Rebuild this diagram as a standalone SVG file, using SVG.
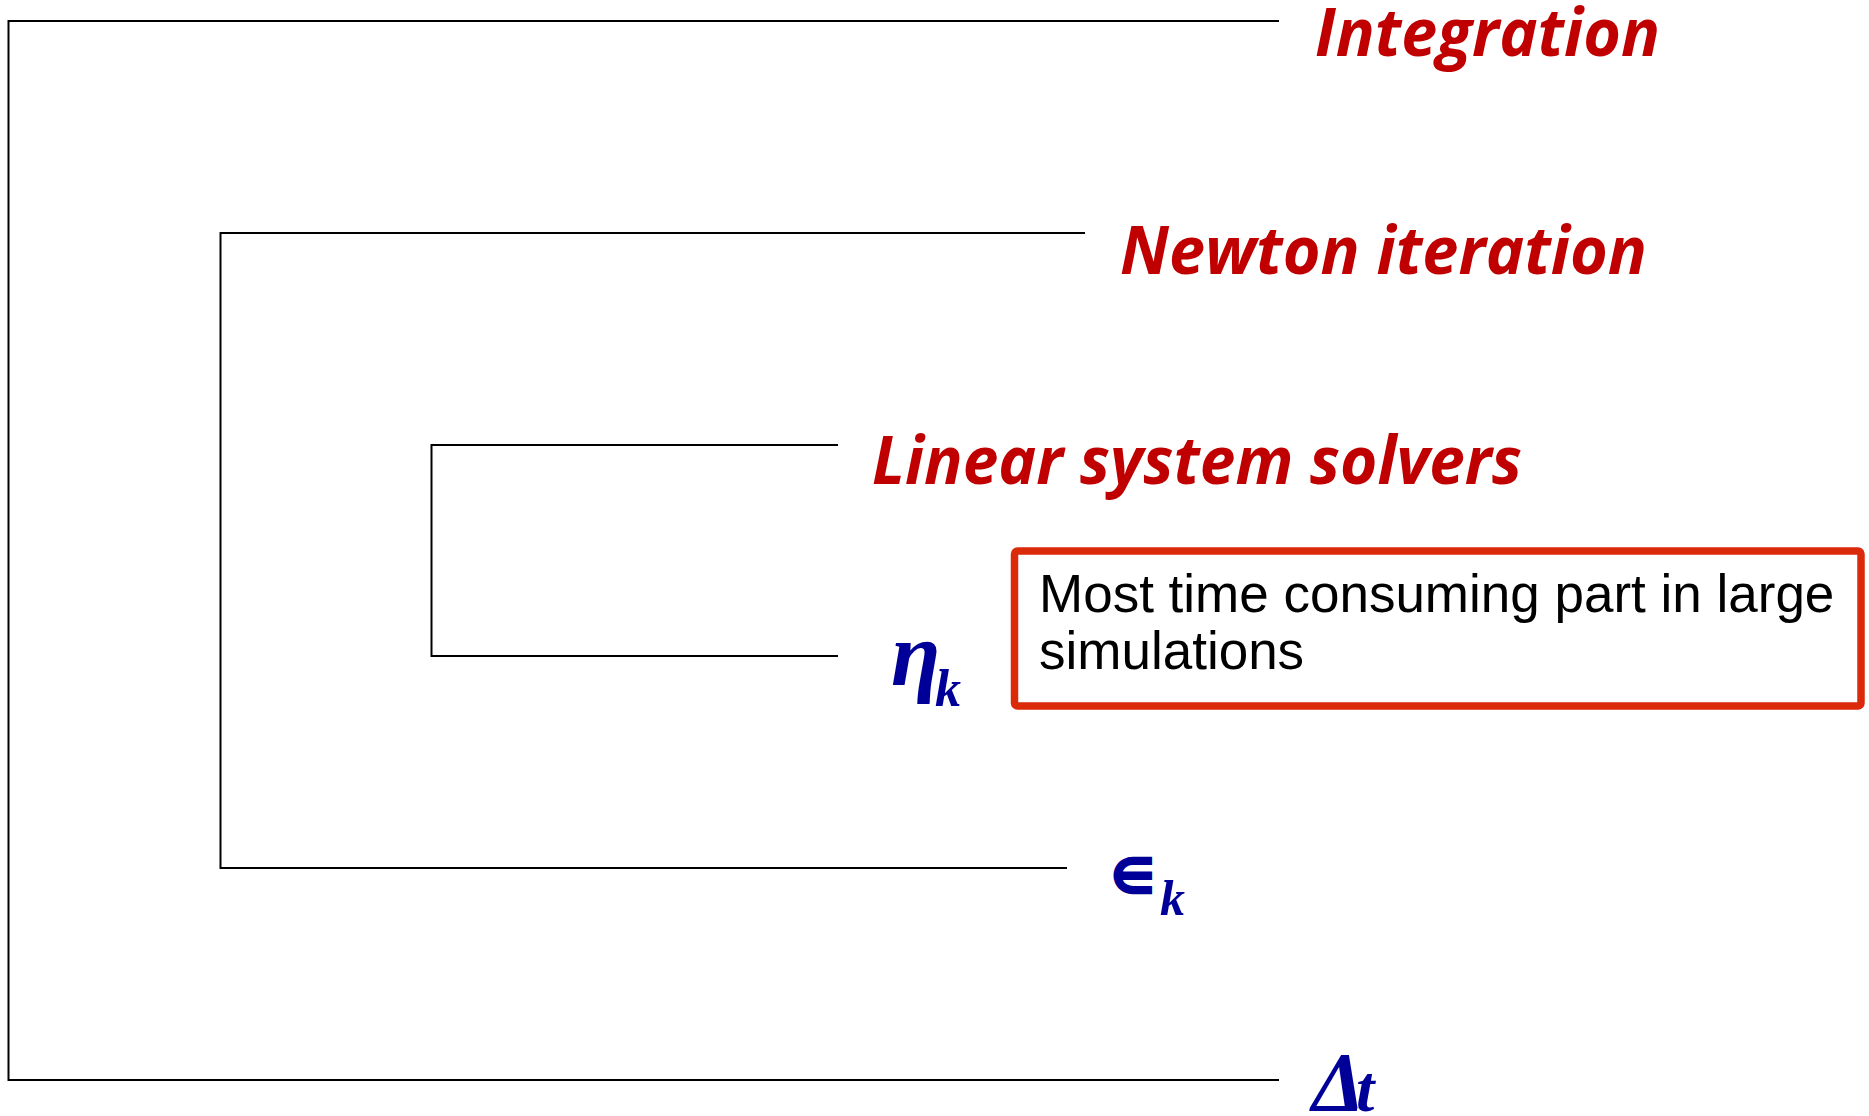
<svg xmlns="http://www.w3.org/2000/svg" width="1869" height="1116" viewBox="0 0 1869 1116">
<style>
.ln{fill:none;stroke:#000;stroke-width:2}
.ttl{font-family:"Open Sans","Liberation Sans",sans-serif;font-weight:bold;font-style:italic;font-size:66px;fill:#C00000}
.math{font-family:"Liberation Serif",serif;font-weight:bold;font-style:italic;fill:#000099}
.note{font-family:"Liberation Sans",Arial,sans-serif;font-size:53px;fill:#000}
</style>
<rect width="1869" height="1116" fill="#fff"/>
<g id="connectors">
<polyline class="ln" points="1279,21 8.5,21 8.5,1080 1279,1080"/>
<polyline class="ln" points="1085,233 220.5,233 220.5,868 1067,868"/>
<polyline class="ln" points="838,445 431.5,445 431.5,656 838,656"/>
</g>
<g id="integration"><text class="ttl" x="1315" y="56" textLength="345" lengthAdjust="spacingAndGlyphs">Integration</text></g>
<g id="newton"><text class="ttl" x="1120" y="274" textLength="527" lengthAdjust="spacingAndGlyphs">Newton iteration</text></g>
<g id="linear"><text class="ttl" x="872" y="484" textLength="650" lengthAdjust="spacingAndGlyphs">Linear system solvers</text></g>
<g id="eta"><text class="math" x="891" y="685" font-size="90">η<tspan x="935" y="706" font-size="52">k</tspan></text></g>
<g id="eps"><text class="math" x="1111" y="893" font-size="50"><tspan font-family="DejaVu Sans,sans-serif" font-style="normal" font-size="48" stroke="#000099" stroke-width="2.5">∈</tspan><tspan x="1160" y="915">k</tspan></text></g>
<g id="dt"><text class="math" x="1312" y="1111" font-size="84">Δ<tspan x="1356" font-size="66">t</tspan></text></g>
<g id="note">
<rect x="1014.5" y="551" width="846.5" height="155" rx="3" fill="#fff" stroke="#DA2A0A" stroke-width="7.5"/>
<text class="note" x="1039" y="612">Most time consuming part in large</text>
<text class="note" x="1039" y="669">simulations</text>
</g>
</svg>
